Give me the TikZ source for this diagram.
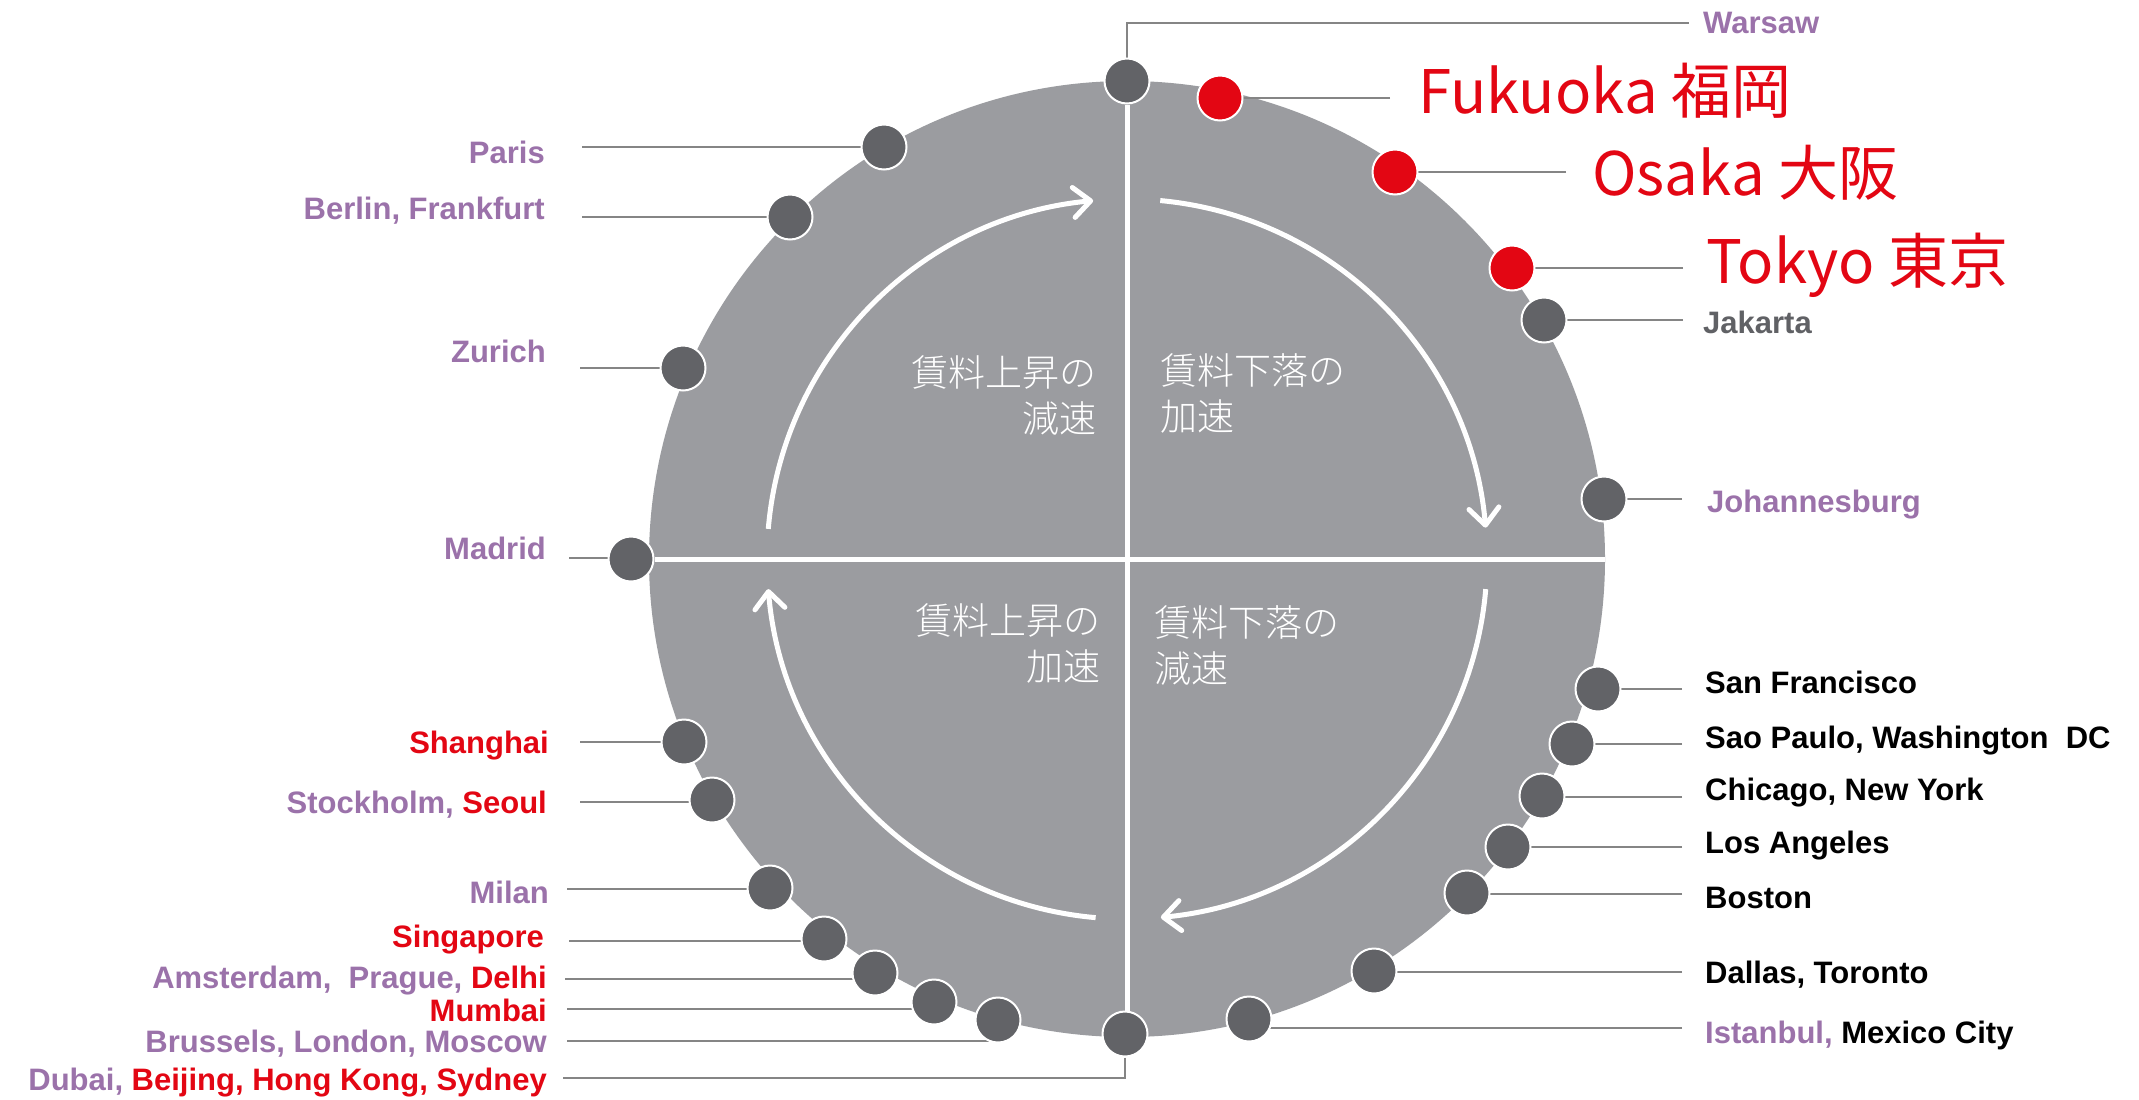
\documentclass[tikz,border=0pt]{standalone}
\usepackage{fontspec}
\setmainfont{Liberation Sans}
\newfontfamily\jpfont{Noto Sans CJK JP}
\newfontfamily\jplight{Noto Sans CJK JP Light}
\usetikzlibrary{arrows.meta}
\pgfdeclarelayer{bg}
\pgfsetlayers{bg,main}
\definecolor{discgray}{HTML}{9B9CA0}
\definecolor{dotgray}{HTML}{626367}
\definecolor{jred}{HTML}{E30613}
\definecolor{purp}{HTML}{9B72AA}
\definecolor{jakgray}{HTML}{606165}
\definecolor{conngray}{HTML}{858585}
\newcommand\cityfont{\fontsize{31bp}{31bp}\selectfont\bfseries}
\newcommand\bigjp{\jpfont\fontsize{60bp}{60bp}\selectfont}
\newcommand\quadfont{\jplight\fontsize{37bp}{46bp}\selectfont}
\begin{document}
\begin{tikzpicture}[x=1bp,y=-1bp,
  dot/.style={circle,fill=dotgray,draw=white,line width=2bp,minimum size=45bp,inner sep=0pt},
  reddot/.style={dot,fill=jred},
  labR/.style={inner sep=0pt,anchor=base west,font=\cityfont},
  labL/.style={inner sep=0pt,anchor=base east,font=\cityfont},
  bigR/.style={inner sep=0pt,anchor=base west,font=\bigjp,text=jred},
  conn/.style={draw=conngray,line width=2.5bp},
  quadline/.style={draw=white,line width=5bp},
  flow/.style={draw=white,line width=5bp,-{Straight Barb[length=17bp,width=30bp,line width=5bp,round]}},
  quadtext/.style={inner sep=0pt,text=white,font=\quadfont}
]
\useasboundingbox (0,0) rectangle (2139,1099);

% dots
\node[dot] (dWar) at (1127,81) {};
\node[reddot] (dFuk) at (1220,98) {};
\node[reddot] (dOsa) at (1395,172) {};
\node[reddot] (dTok) at (1512,268) {};
\node[dot] (dJak) at (1544,320) {};
\node[dot] (dJoh) at (1604,499) {};
\node[dot] (dSF) at (1598,689) {};
\node[dot] (dSP) at (1572,744) {};
\node[dot] (dChi) at (1542,796) {};
\node[dot] (dLA) at (1508,847) {};
\node[dot] (dBos) at (1467,893) {};
\node[dot] (dDal) at (1374,971) {};
\node[dot] (dIst) at (1249,1019) {};
\node[dot] (dDub) at (1125,1034) {};
\node[dot] (dBru) at (998,1020) {};
\node[dot] (dMum) at (934,1002) {};
\node[dot] (dAms) at (875,973) {};
\node[dot] (dSin) at (824,939) {};
\node[dot] (dMil) at (770,888) {};
\node[dot] (dSto) at (712,800) {};
\node[dot] (dSha) at (684,742) {};
\node[dot] (dMad) at (631,559) {};
\node[dot] (dZur) at (683,368) {};
\node[dot] (dBer) at (790,217) {};
\node[dot] (dPar) at (884,147) {};

% connector ends
\coordinate (aWar) at (1689,23);
\coordinate (aFuk) at (1390,98);
\coordinate (aOsa) at (1566,172);
\coordinate (aTok) at (1683,268);
\coordinate (aJak) at (1683,320);
\coordinate (aJoh) at (1682,499);
\coordinate (aSF) at (1682,689);
\coordinate (aSP) at (1682,744);
\coordinate (aChi) at (1682,797);
\coordinate (aLA) at (1682,847);
\coordinate (aBos) at (1682,894);
\coordinate (aDal) at (1682,972);
\coordinate (aIst) at (1682,1028);
\coordinate (aPar) at (582,147);
\coordinate (aBer) at (582,217);
\coordinate (aZur) at (580,368);
\coordinate (aMad) at (569,558);
\coordinate (aSha) at (580,742);
\coordinate (aSto) at (580,802);
\coordinate (aMil) at (567,889);
\coordinate (aSin) at (569,941);
\coordinate (aAms) at (565,979);
\coordinate (aMum) at (567,1009);
\coordinate (aBru) at (567,1041);
\coordinate (aDub) at (563,1078);

% labels right
\node[labR,text=purp] (lWar) at (1703,33) {Warsaw};
\node[bigR] (lFuk) at (1418,113) {Fukuoka 福岡};
\node[bigR] (lOsa) at (1592,195) {Osaka 大阪};
\node[bigR] (lTok) at (1706,283) {Tokyo 東京};
\node[labR,text=jakgray] (lJak) at (1703,333) {Jakarta};
\node[labR,text=purp] (lJoh) at (1707,512) {Johannesburg};
\node[labR] (lSF) at (1705,693) {San Francisco};
\node[labR] (lSP) at (1705,748) {Sao Paulo, Washington\ \ DC};
\node[labR] (lChi) at (1705,800) {Chicago,\ New York};
\node[labR] (lLA) at (1705,853) {Los Angeles};
\node[labR] (lBos) at (1705,908) {Boston};
\node[labR] (lDal) at (1705,983) {Dallas, Toronto};
\node[labR] (lIst) at (1705,1043) {{\color{purp}Istanbul,} Mexico City};

% labels left
\node[labL,text=purp] (lPar) at (545,163) {Paris};
\node[labL,text=purp] (lBer) at (545,219) {Berlin, Frankfurt};
\node[labL,text=purp] (lZur) at (546,362) {Zurich};
\node[labL,text=purp] (lMad) at (546,559) {Madrid};
\node[labL,text=jred] (lSha) at (549,753) {Shanghai};
\node[labL] (lSto) at (547,813) {{\color{purp}Stockholm,}\ {\color{jred}Seoul}};
\node[labL,text=purp] (lMil) at (549,903) {Milan};
\node[labL,text=jred] (lSin) at (544,947) {Singapore};
\node[labL] (lAms) at (547,988) {{\color{purp}Amsterdam,\ \ Prague,} {\color{jred}Delhi}};
\node[labL,text=jred] (lMum) at (547,1021) {Mumbai};
\node[labL,text=purp] (lBru) at (547,1052) {Brussels, London, Moscow};
\node[labL] (lDub) at (547,1090) {{\color{purp}Dubai,} {\color{jred}Beijing, Hong Kong, Sydney}};

% quadrant texts
\node[quadtext,anchor=north east,align=right] (qTL) at (1097,355) {賃料上昇の\\減速};
\node[quadtext,anchor=north west,align=left] (qTR) at (1160,353) {賃料下落の\\加速};
\node[quadtext,anchor=north east,align=right] (qBL) at (1101,603) {賃料上昇の\\加速};
\node[quadtext,anchor=north west,align=left] (qBR) at (1154,605) {賃料下落の\\減速};

\begin{pgfonlayer}{bg}
\fill[white] (0,0) rectangle (2139,1099);
\node[circle,fill=discgray,minimum size=956bp,inner sep=0pt] (disc) at (1127,559) {};
\draw[quadline] (dWar) -- (dWar |- dDub);
\draw[quadline] (dMad) -- (disc.east);
\draw[flow] (disc.center) ++(-175.2:360) arc[start angle=-175.2,end angle=-95.4,radius=360];
\draw[flow] (disc.center) ++(-84.7:360) arc[start angle=-84.7,end angle=-5,radius=360];
\draw[flow] (disc.center) ++(4.8:360) arc[start angle=4.8,end angle=84.6,radius=360];
\draw[flow] (disc.center) ++(95:360) arc[start angle=95,end angle=175.2,radius=360];
\draw[conn] (dWar) |- (aWar);
\draw[conn] (dDub) |- (aDub);
\foreach \c in {Fuk,Osa,Tok,Jak,Joh,SF,SP,Chi,LA,Bos,Dal,Ist,Par,Ber,Zur,Mad,Sha,Sto,Mil,Sin,Ams,Mum,Bru}
  \draw[conn] (a\c) -- (a\c -| d\c);
\end{pgfonlayer}
\end{tikzpicture}
\end{document}
